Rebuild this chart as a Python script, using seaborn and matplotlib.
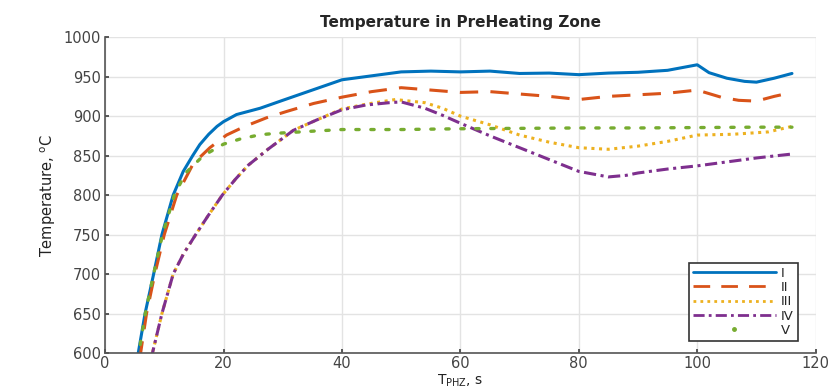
import matplotlib
matplotlib.use("Agg")
import matplotlib.pyplot as plt
import seaborn as sns
import pandas as pd
from matplotlib.lines import Line2D

# ---- data ----
x_I = [5.4, 5.6, 6.75, 8.2, 9.6, 11.5, 13.2, 14.8, 16.0, 17.5, 18.9, 20, 22.2, 26.2, 30, 35, 40,
       45, 50, 55, 60, 65, 70, 75, 80, 85, 90, 95, 100, 102, 105, 108, 110, 113, 116]
T_I = [592, 600, 650, 700, 750, 800, 830, 850, 864, 877, 887, 893, 902, 910, 920, 933, 946,
       951, 956, 957, 956, 957, 954, 954.5, 952.5, 954.5, 955.5, 958, 965, 955, 948, 944, 943, 948, 954]

x_II = [5.8, 6.0, 7.0, 8.4, 10.0, 12.1, 14.9, 17.7, 20.5, 23.6, 27.3, 30.7, 35.2, 40, 45,
        50, 55, 60, 65, 70, 75, 80, 85, 90, 95, 100, 104, 107, 110, 113, 116]
T_II = [592, 600, 650, 700, 750, 800, 840, 860, 876, 887, 898, 906, 916, 924, 931,
        936, 933, 930, 931, 928, 925, 921, 925, 927, 929, 933, 924, 920, 919, 925, 930]

x_III = [7.8, 8.0, 9.6, 11.5, 13.2, 15.3, 17.5, 19.8, 22, 24.2, 27.5, 31.8, 35.7, 40, 44,
         49, 54, 57, 60, 65, 70, 75, 80, 85, 90, 95, 100, 106, 112, 116]
T_III = [592, 600, 650, 700, 725, 750, 775, 800, 820, 838, 858, 882, 895, 909, 915,
         921, 917, 910, 900, 889, 876, 867, 860, 858, 862, 868, 876, 877, 880, 887]

x_IV = [7.8, 8.0, 9.6, 11.5, 13.2, 15.3, 17.5, 19.8, 22, 24.2, 27.5, 31.8, 35.7, 40, 44,
        48, 50, 54, 57, 60, 65, 70, 75, 80, 85, 88, 90, 95, 100, 105, 110, 116]
T_IV = [592, 600, 650, 700, 725, 750, 775, 800, 820, 838, 858, 882, 895, 908, 914,
        917, 918, 910, 901, 891, 875, 860, 845, 830, 823, 825, 828, 833, 837, 842, 847, 852]

x_V = [5.5, 5.7, 6.8, 8.2, 9.7, 11.7, 13.6, 16.6, 20, 22.8, 26.2, 29.5, 35.2, 40, 50, 60,
       70, 80, 90, 100, 110, 116]
T_V = [592, 600, 650, 700, 750, 800, 828, 850, 864.5, 871, 876.5, 878.5, 881, 883, 883, 884,
       884.5, 885, 885, 885.5, 886, 886]

labels = ["I", "II", "III", "IV", "V"]
xs = [x_I, x_II, x_III, x_IV, x_V]
ys = [T_I, T_II, T_III, T_IV, T_V]

x_ticks = [0, 20, 40, 60, 80, 100, 120]
y_ticks = [600, 650, 700, 750, 800, 850, 900, 950, 1000]

colors = ["#0072BD", "#D95319", "#EDB120", "#7E2F8E", "#77AC30"]
dashes = [None, (6, 4), (1, 1.5), (4, 1.5, 1, 1.5), (1, 3.5)]

sns.set_theme(style="white")
plt.rcParams["font.family"] = ["DejaVu Sans"]

fig = plt.figure(figsize=(8.34, 3.89), dpi=100)
ax = fig.add_axes([0.126, 0.0925, 0.852, 0.812])

for lab, xv, yv, c, d in zip(labels, xs, ys, colors, dashes):
    df = pd.DataFrame({"x": xv, "T": yv})
    sns.lineplot(data=df, x="x", y="T", ax=ax, color=c, linewidth=2.2, sort=False,
                 estimator=None, legend=False)
    ln = ax.lines[-1]
    if d is not None:
        ln.set_dashes(d)
    if lab == "V":
        ln.set_dash_capstyle("round")
        ln.set_linewidth(2.4)

ax.set_xlim(0, 120)
ax.set_ylim(600, 1000)
ax.set_xticks(x_ticks)
ax.set_yticks(y_ticks)
ax.grid(True, color="#e3e3e3", linewidth=1.0)
for s in ["top", "right"]:
    ax.spines[s].set_visible(False)
for s in ["left", "bottom"]:
    ax.spines[s].set_color("#555555")
    ax.spines[s].set_linewidth(1.2)
ax.tick_params(axis="both", labelsize=10.5, colors="#444444", direction="in", length=3,
               left=True, bottom=True, pad=3)
ax.tick_params(axis="x", pad=2)
for t in ax.get_xticklabels() + ax.get_yticklabels():
    t.set_color("#444444")

ax.set_title("Temperature in PreHeating Zone", fontsize=11, fontweight="bold", pad=7)
ax.set_ylabel(r"Temperature, $^{\mathregular{o}}$C", fontsize=10.5, color="#222222", labelpad=4)
ax.set_xlabel(r"T$_{\mathregular{PHZ}}$, s", fontsize=10, color="#222222")
ax.xaxis.set_label_coords(0.5, -0.1)
ax.xaxis.label.set_verticalalignment("baseline")

handles = []
for lab, c, d in zip(labels, colors, dashes):
    if lab == "V":
        handles.append(Line2D([], [], color=c, marker=".", linestyle="none", markersize=5))
    else:
        h = Line2D([], [], color=c, linewidth=2.0)
        if d is not None:
            h.set_dashes(d)
        handles.append(h)
leg = ax.legend(handles, labels, loc="lower right", bbox_to_anchor=(0.975, 0.038),
                borderaxespad=0, fontsize=9.5, handlelength=6.3, handletextpad=0.4,
                labelspacing=0.1, borderpad=0.3, frameon=True, fancybox=False, framealpha=1)
leg.get_frame().set_edgecolor("#333333")
leg.get_frame().set_linewidth(1.2)

fig.savefig("out.png", dpi=100)
